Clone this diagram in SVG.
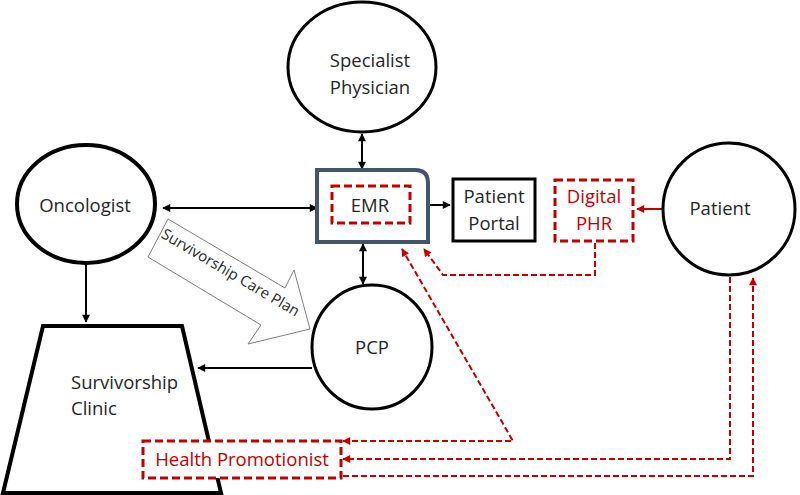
<svg xmlns="http://www.w3.org/2000/svg" width="800" height="495" viewBox="0 0 800 495">
<defs>
<style>
.t{font-family:"Open Sans","Liberation Sans",sans-serif;font-size:18.5px;fill:#262626;text-anchor:middle}
.r{fill:#C00000}
.node{fill:#fff;stroke:#000;stroke-width:3}
.thick{stroke-width:4}
.blk{stroke:#000;stroke-width:2;fill:none}
.red{stroke:#C00000;stroke-width:2;fill:none;stroke-dasharray:6 3}
.rbox{fill:#fff;stroke:#C00000;stroke-width:3;stroke-dasharray:8 4}
</style>
<marker id="ab" viewBox="0 0 10 10" refX="9" refY="5" markerWidth="9" markerHeight="8" markerUnits="userSpaceOnUse" orient="auto-start-reverse"><path d="M0,0 L10,5 L0,10 Z" fill="#000"/></marker>
<marker id="ar" viewBox="0 0 10 10" refX="9" refY="5" markerWidth="9" markerHeight="8" markerUnits="userSpaceOnUse" orient="auto-start-reverse"><path d="M0,0 L10,5 L0,10 Z" fill="#C00000"/></marker>
</defs>
<rect width="800" height="495" fill="#fff"/>

<g id="connectors">
<line class="blk" x1="163" y1="208" x2="317" y2="208" marker-start="url(#ab)" marker-end="url(#ab)"/>
<line class="blk" x1="362" y1="134" x2="362" y2="169" marker-start="url(#ab)" marker-end="url(#ab)"/>
<line class="blk" x1="363" y1="244" x2="363" y2="284" marker-start="url(#ab)" marker-end="url(#ab)"/>
<line class="blk" x1="430" y1="205" x2="450" y2="205" marker-end="url(#ab)"/>
<line class="blk" x1="86" y1="264" x2="86" y2="322" marker-end="url(#ab)"/>
<line class="blk" x1="312" y1="368" x2="198" y2="368" marker-end="url(#ab)"/>
<line x1="663" y1="209" x2="637" y2="209" stroke="#C00000" stroke-width="2" marker-end="url(#ar)"/>
<polyline class="red" points="595,243 595,275 443,275 424,249" marker-end="url(#ar)"/>
<polyline class="red" points="343,441 513,441 402,249" marker-start="url(#ar)" marker-end="url(#ar)"/>
<polyline class="red" points="730,277 730,459 343,459" marker-end="url(#ar)"/>
<polyline class="red" points="343,476 753,476 753,278" marker-end="url(#ar)"/>
<g id="care-plan">
<polygon points="168,219 285,288 294,270 310,329 248,344 261,325 148,257" fill="#fff" stroke="#7f7f7f" stroke-width="1"/>
<text class="t" x="228" y="277" style="font-size:15px" transform="rotate(30.5 228 277)">Survivorship Care Plan</text>
</g>
</g>

<g id="specialist">
<ellipse class="node" cx="362" cy="67" rx="74" ry="65"/>
<text class="t" x="370" y="67">Specialist</text>
<text class="t" x="370" y="94">Physician</text>
</g>

<g id="oncologist">
<ellipse class="node thick" cx="86" cy="204" rx="69" ry="59"/>
<text class="t" x="85" y="212">Oncologist</text>
</g>

<g id="emr">
<path d="M317,170 H415 Q428,170 428,183 V242 H317 Z" fill="#fff" stroke="#44546A" stroke-width="4"/>
<rect class="rbox" x="332" y="186" width="78" height="37" stroke-width="2.5" stroke-dasharray="7 3" stroke="#E00000"/>
<text class="t" x="370" y="212">EMR</text>
</g>

<g id="patient-portal">
<rect class="node" x="453" y="179" width="82" height="62"/>
<text class="t" x="494" y="203">Patient</text>
<text class="t" x="494" y="230">Portal</text>
</g>

<g id="digital-phr">
<rect class="rbox" x="555" y="180" width="78" height="61"/>
<text class="t r" x="594" y="203">Digital</text>
<text class="t r" x="594" y="230">PHR</text>
</g>

<g id="patient">
<circle class="node" cx="729" cy="209" r="66"/>
<text class="t" x="720" y="215">Patient</text>
</g>

<g id="pcp">
<ellipse class="node" cx="372" cy="347" rx="60" ry="62"/>
<text class="t" x="372" y="354">PCP</text>
</g>

<g id="survivorship-clinic">
<polygon class="node thick" points="43,326 182,326 221,493 3,493"/>
<text class="t" x="71" y="389" style="text-anchor:start">Survivorship</text>
<text class="t" x="71" y="415" style="text-anchor:start">Clinic</text>
</g>

<g id="health-promotionist">
<rect class="rbox" x="143" y="441" width="198" height="37"/>
<text class="t r" x="242" y="466">Health Promotionist</text>
</g>
</svg>
